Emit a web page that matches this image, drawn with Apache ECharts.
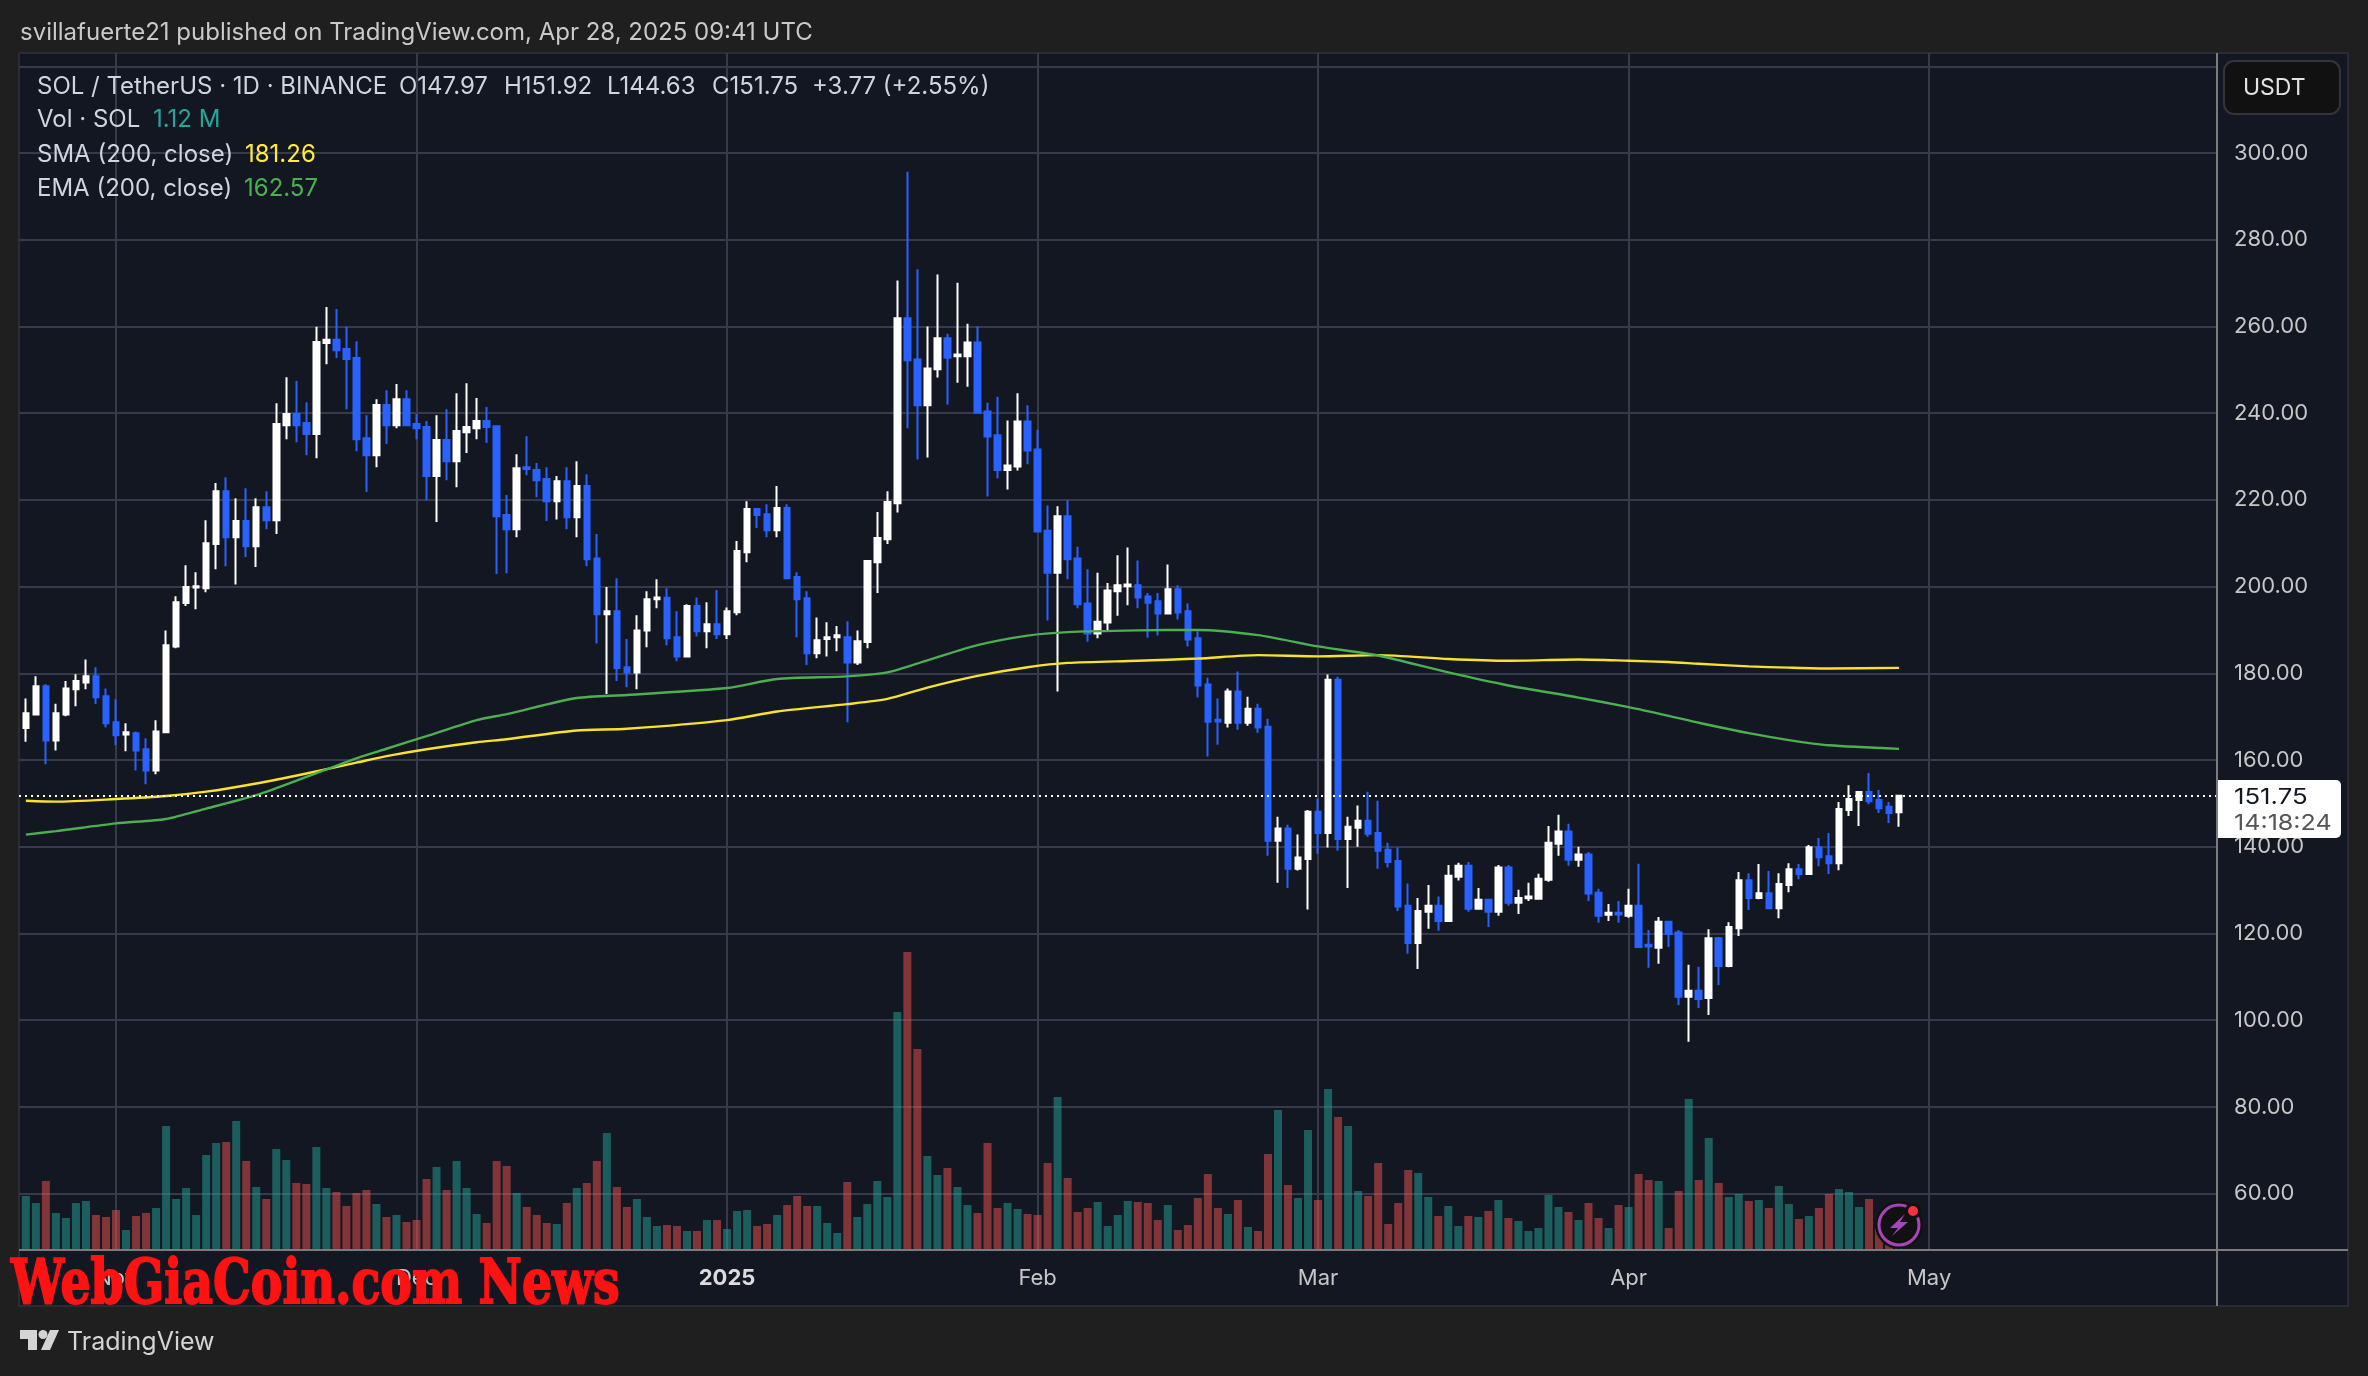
<!DOCTYPE html>
<html>
<head>
<meta charset="utf-8">
<style>
  html, body { margin: 0; padding: 0; background: #1f1f1f; }
  #container { width: 2368px; height: 1376px; }
</style>
<script src="https://cdn.jsdelivr.net/npm/echarts@6/dist/echarts.min.js"></script>
</head>
<body>
<div id="container"></div>
<script>
// daily candles, first one is 23 Oct 2024, last one 28 Apr 2025
var firstDay = Date.UTC(2024, 9, 23);
var DAY = 86400000;

var opens = [
  167.4,170.5,177.0,164.5,170.5,176.3,177.9,179.3,174.7,168.7,
  165.9,166.2,162.5,157.6,166.4,186.2,196.2,199.8,199.6,209.8,
  222.0,211.4,215.1,209.3,218.3,215.3,237.2,239.8,237.7,235.2,
  256.2,256.9,254.8,252.7,234.2,230.3,241.9,237.2,243.2,237.5,
  236.8,225.5,233.8,228.9,235.6,236.5,238.2,237.0,216.5,213.2,
  227.5,226.9,224.8,219.7,224.3,216.0,223.2,206.5,193.6,194.3,
  181.4,180.2,189.9,197.1,197.4,188.3,183.9,195.5,189.7,191.3,
  189.0,194.1,207.9,217.9,216.7,213.0,218.1,202.2,197.3,184.6,
  187.9,188.3,188.3,182.5,187.2,205.6,210.9,219.2,261.9,252.4,
  241.8,250.1,257.3,253.1,253.1,256.3,240.4,234.9,226.9,227.7,
  238.1,231.6,212.9,203.2,216.2,206.5,196.1,189.2,191.7,198.9,
  200.1,200.3,197.7,196.6,193.8,199.4,194.3,188.1,177.4,169.3,
  168.6,175.8,168.6,171.8,167.7,141.4,144.2,134.9,137.2,148.1,
  143.2,178.5,141.8,144.4,146.0,143.2,139.3,136.7,126.4,117.8,
  125.0,126.4,122.9,133.1,135.6,125.7,127.8,125.0,135.2,127.1,
  128.1,128.0,132.4,140.7,143.5,137.0,138.2,129.4,124.3,124.8,
  124.1,126.4,117.4,116.7,122.7,120.2,105.4,106.8,105.1,118.9,
  112.5,121.2,132.3,128.2,129.3,125.8,131.2,134.8,133.7,139.9,
  137.8,136.2,148.5,150.8,152.6,150.8,149.2,147.97
];
var closes = [
  170.8,177.0,164.5,170.8,176.5,178.2,179.3,174.5,168.5,165.7,
  166.4,162.2,157.6,166.6,186.5,196.4,199.9,200.1,210.0,222.0,
  211.4,215.1,209.3,218.3,215.3,237.5,239.8,237.2,235.2,256.4,
  256.9,254.5,252.5,234.0,230.3,241.9,237.2,243.2,237.2,236.5,
  225.5,233.8,228.9,235.9,236.8,238.2,236.8,216.2,213.2,227.3,
  227.1,224.5,219.7,224.3,216.0,223.2,206.3,193.6,194.3,181.2,
  180.2,189.9,197.1,197.5,188.1,183.9,195.5,189.7,191.3,189.0,
  194.3,208.2,217.9,216.5,213.0,218.1,201.9,197.1,184.6,187.6,
  188.3,188.8,182.5,187.4,205.9,211.2,219.5,261.9,252.2,241.8,
  250.3,257.3,252.8,253.5,256.3,240.1,234.6,226.9,227.9,238.1,
  231.4,212.7,203.2,216.2,206.3,195.9,189.2,191.9,199.1,200.3,
  200.5,197.5,196.3,193.8,199.4,194.0,187.8,177.2,168.8,168.9,
  175.8,168.6,171.8,167.5,141.4,144.2,134.9,137.5,148.1,143.2,
  178.5,141.8,144.6,146.0,143.0,139.1,136.5,126.2,117.8,125.2,
  126.4,122.9,133.3,135.6,125.7,127.8,125.0,135.2,127.1,128.2,
  128.5,132.6,140.9,143.5,137.0,138.2,129.2,124.1,124.8,124.4,
  126.4,116.9,117.0,122.7,119.9,105.4,106.8,104.9,118.9,112.5,
  121.5,132.3,128.2,129.3,125.8,131.4,134.8,133.7,139.9,137.6,
  136.2,148.7,151.0,152.6,150.5,148.9,147.8,151.75
];
var highs = [
  174.2,179.3,177.5,173.0,178.2,179.8,183.2,181.4,176.5,174.0,
  168.5,166.6,165.0,169.2,189.9,197.8,204.9,203.3,215.3,223.9,
  225.2,220.4,222.7,220.4,222.0,242.3,248.3,247.4,242.5,259.9,
  264.5,264.0,259.9,256.6,239.5,243.2,245.3,246.7,245.3,239.8,
  238.2,239.5,240.9,244.6,246.9,243.5,241.4,237.2,221.1,230.5,
  234.7,228.5,227.5,225.5,227.5,228.9,225.9,212.1,199.9,201.9,
  187.9,193.4,198.9,201.7,199.6,194.3,195.9,197.5,196.4,199.2,
  195.2,210.5,219.7,218.1,219.0,223.2,219.0,203.3,198.9,192.9,
  191.8,190.9,192.0,189.9,206.1,217.2,222.0,270.6,295.7,273.2,
  260.0,272.0,258.3,270.1,260.6,260.0,242.4,243.8,238.3,244.6,
  241.8,236.2,218.7,218.5,219.9,209.2,204.0,203.2,200.8,207.2,
  209.0,206.0,198.5,198.5,205.1,200.3,196.1,189.7,179.0,174.2,
  176.5,180.4,174.6,173.0,169.5,146.9,145.1,142.8,148.5,151.1,
  179.7,179.2,146.9,149.5,152.7,150.6,140.9,139.8,131.5,128.2,
  131.2,128.5,135.8,136.3,136.5,130.5,128.0,135.8,135.8,130.1,
  131.7,133.8,144.8,147.4,145.3,140.0,138.8,130.3,126.8,127.5,
  130.3,136.1,120.8,123.8,122.7,120.8,112.8,112.3,121.0,119.2,
  122.6,134.2,133.9,136.0,134.4,133.9,136.2,136.0,140.4,142.0,
  143.2,150.3,154.2,152.8,157.0,153.1,150.3,151.92
];
var lows = [
  164.2,170.3,159.0,162.2,170.1,172.4,176.3,172.9,167.5,163.4,
  162.0,157.6,154.4,156.7,166.3,185.8,195.5,194.8,198.7,204.0,
  204.7,200.5,206.8,204.5,213.2,212.1,234.0,233.3,230.3,229.6,
  251.3,252.7,240.9,231.2,221.8,227.5,232.9,236.5,237.0,234.0,
  219.9,214.9,224.5,222.9,230.8,234.0,233.1,202.9,203.1,211.4,
  225.7,220.6,215.1,215.5,213.2,211.4,204.7,186.9,175.2,178.2,
  176.8,176.3,186.0,195.0,186.5,182.8,183.7,188.5,185.8,187.9,
  187.9,193.4,205.6,213.5,211.4,211.4,201.7,188.3,181.9,183.5,
  183.9,185.1,168.7,181.9,185.8,198.5,209.8,217.1,236.5,229.3,
  229.8,248.2,242.0,247.0,246.1,239.9,220.8,225.0,222.4,226.8,
  228.2,212.5,192.2,175.8,201.7,195.0,187.3,188.1,189.6,193.3,
  195.7,195.0,188.2,188.7,193.7,192.4,186.2,174.4,160.8,163.5,
  167.5,167.0,167.9,166.3,137.9,131.7,130.5,134.5,125.5,138.4,
  139.8,139.1,130.5,140.0,142.3,134.9,135.2,125.2,115.3,111.8,
  121.1,120.6,122.7,132.2,125.0,125.5,121.5,124.1,126.4,124.5,
  127.5,127.9,131.9,137.9,135.6,135.4,127.5,122.5,122.9,122.5,
  123.6,116.7,112.1,113.0,116.9,103.5,95.0,102.8,101.2,108.1,
  112.2,119.4,125.4,127.9,125.7,123.5,129.5,132.5,133.5,135.5,
  133.7,134.6,147.1,144.8,149.8,147.8,145.5,144.63
];
// volume in millions of SOL
var volumes = [
  5.4,4.7,6.9,3.7,3.2,4.7,4.9,3.5,3.3,4.0,
  2.0,3.4,3.7,4.2,12.4,5.1,6.2,3.5,9.5,10.7,
  10.8,12.9,8.9,6.3,5.1,10.1,9.0,6.7,6.6,10.3,
  6.2,5.8,4.4,5.7,6.0,4.6,3.3,3.5,2.8,3.0,
  7.1,8.3,6.0,8.9,6.2,3.6,2.7,8.9,8.4,5.7,
  4.3,3.5,2.7,2.6,4.7,6.2,6.7,8.9,11.7,6.3,
  4.3,5.1,3.3,2.4,2.5,2.4,1.9,1.9,3.0,3.0,
  2.1,3.9,4.0,2.4,2.6,3.5,4.5,5.4,4.4,4.4,
  2.7,1.7,6.8,3.3,4.6,6.9,5.3,23.8,29.8,20.1,
  9.4,7.5,8.2,6.3,4.5,3.7,10.7,4.2,4.7,4.1,
  3.6,3.5,8.7,15.3,7.2,3.8,4.2,4.8,2.4,3.5,
  4.9,4.8,4.7,3.0,4.5,2.0,2.5,5.2,7.6,4.2,
  3.6,5.0,2.3,1.9,9.6,14.0,6.5,5.2,12.0,5.0,
  16.1,13.3,12.4,5.9,5.4,8.7,2.6,4.7,8.0,7.7,
  5.3,3.4,4.4,2.4,3.4,3.3,3.9,5.0,3.2,2.9,
  1.9,2.2,5.5,4.3,3.8,3.0,4.7,3.2,2.2,4.5,
  4.3,7.6,7.0,6.9,2.2,5.9,15.1,7.0,11.2,6.7,
  5.3,5.6,4.9,5.0,4.2,6.4,4.6,3.1,3.4,4.2,
  5.6,6.1,5.8,4.3,5.1,2.2,1.5,1.12
];

// moving averages at these candle numbers
var maDays = [0,3,9,14,18,23,28,33,36,40,45,48,55,60,70,75,82,86,90,95,100,104,111,117,123,129,135,142,148,155,160,164,167,172,176,180,187];
var smaValues = [150.6,150.4,151.0,151.7,152.7,154.6,156.9,159.4,160.9,162.5,164.1,164.8,166.8,167.2,169.2,171.2,172.9,174.1,176.7,179.4,181.4,182.4,182.9,183.4,184.2,183.9,184.2,183.3,182.9,183.2,182.9,182.6,182.2,181.6,181.3,181.1,181.26];
var emaValues = [142.8,143.6,145.4,146.4,148.8,151.9,156.1,160.4,162.6,165.5,169.2,170.6,174.3,175.0,176.6,178.7,179.3,180.2,183.0,186.5,188.7,189.5,189.9,190.0,188.8,186.2,184.1,180.2,177.2,174.4,172.2,170.2,168.6,166.2,164.6,163.4,162.57];

var gridPrices = [60,80,100,120,140,160,180,200,220,240,260,280,300,320];
var labelPrices = [60,80,100,120,140,160,180,200,220,240,260,280,300];
var monthTicks = [Date.UTC(2024,10,1), Date.UTC(2024,11,1), Date.UTC(2025,0,1), Date.UTC(2025,1,1), Date.UTC(2025,2,1), Date.UTC(2025,3,1), Date.UTC(2025,4,1)];
var monthLabels = ['Nov','Dec','2025','Feb','Mar','Apr','May'];
var lastPrice = 151.75;

var UP = '#ffffff';
var DOWN = '#2962ff';
var FONT = 'Inter';

var dom = document.getElementById('container');
var myChart = echarts.init(dom, null, { renderer: 'canvas' });

function dayTime(i) {
  return firstDay + i * DAY;
}

var candleData = opens.map(function (o, i) {
  return [dayTime(i), o, closes[i], lows[i], highs[i]];
});
var volumeData = volumes.map(function (v, i) {
  return {
    value: [dayTime(i), v],
    itemStyle: { color: closes[i] >= opens[i] ? 'rgba(38,166,154,0.5)' : 'rgba(239,83,80,0.5)' }
  };
});
var smaData = maDays.map(function (d, i) { return [dayTime(d), smaValues[i]]; });
var emaData = maDays.map(function (d, i) { return [dayTime(d), emaValues[i]]; });

function txt(text, x, y, color, size, sx) {
  return {
    type: 'text', x: x, y: y, z: 100, scaleX: sx || 1,
    style: {
      text: text, fill: color, fontFamily: FONT, fontSize: size,
      textAlign: 'left', textVerticalAlign: 'middle'
    }
  };
}
function hvLine(x1, y1, x2, y2, color) {
  return { type: 'line', z: 50, shape: { x1: x1, y1: y1, x2: x2, y2: y2 }, style: { stroke: color, lineWidth: 2 } };
}

var LEGEND = '#d1d4dc';
var graphicItems = [
  // panel behind everything
  { type: 'rect', z: -10, shape: { x: 19, y: 53, width: 2329, height: 1253 }, style: { fill: '#131722', stroke: '#2b2c30', lineWidth: 2 } },
  hvLine(2217, 53, 2217, 1306, '#7b7b7b'),
  hvLine(19, 1250, 2348, 1250, '#7b7b7b'),

  txt('svillafuerte21 published on TradingView.com, Apr 28, 2025 09:41 UTC', 20, 33, '#c9c9c9', 24),

  txt('SOL / TetherUS · 1D · BINANCE', 37, 87, LEGEND, 24),
  txt('O147.97', 399, 87, LEGEND, 24),
  txt('H151.92', 504, 87, LEGEND, 24),
  txt('L144.63', 607, 87, LEGEND, 24),
  txt('C151.75', 712, 87, LEGEND, 24),
  txt('+3.77 (+2.55%)', 812, 87, LEGEND, 24),
  txt('Vol · SOL', 37, 120, LEGEND, 24),
  txt('1.12 M', 153, 120, '#26a69a', 24),
  txt('SMA (200, close)', 37, 155, LEGEND, 24),
  txt('181.26', 245, 155, '#ffeb3b', 24),
  txt('EMA (200, close)', 37, 189, LEGEND, 24),
  txt('162.57', 244, 189, '#4caf50', 24),

  // currency button
  { type: 'rect', z: 100, shape: { x: 2224, y: 61, width: 116, height: 53, r: 10 }, style: { fill: '#111111', stroke: '#34353a', lineWidth: 2 } },
  txt('USDT', 2243, 88, '#e2e2e2', 23),

  // last price tag
  { type: 'rect', z: 100, shape: { x: 2218, y: 780, width: 123, height: 58, r: [0, 5, 5, 0] }, style: { fill: '#ffffff' } },
  txt('151.75', 2234, 797, '#131722', 22, 1.17),
  txt('14:18:24', 2234, 823, '#555555', 22, 1.14),

  // bolt badge
  { type: 'circle', z: 100, shape: { cx: 1899, cy: 1225, r: 24 }, style: { fill: '#111111' } },
  { type: 'circle', z: 101, shape: { cx: 1899, cy: 1225, r: 20 }, style: { fill: '#111111', stroke: '#a845bb', lineWidth: 3 } },
  { type: 'polygon', z: 102, shape: { points: [[1905, 1214], [1890, 1228], [1898, 1228], [1892, 1236], [1908, 1222], [1900, 1222]] }, style: { fill: '#a845bb' } },
  { type: 'circle', z: 102, shape: { cx: 1913, cy: 1211, r: 8 }, style: { fill: '#111111' } },
  { type: 'circle', z: 103, shape: { cx: 1913, cy: 1211, r: 5 }, style: { fill: '#f9303f' } },

  // watermark
  { type: 'text', z: 110, x: 11, y: 1287, scaleX: 0.765, style: {
    text: 'WebGiaCoin.com News', fill: '#ff1212', stroke: '#ff1212', lineWidth: 2,
    fontFamily: 'DejaVu Serif', fontWeight: 'bold', fontSize: 62,
    textAlign: 'left', textVerticalAlign: 'middle'
  } },

  // TradingView footer
  { type: 'polygon', z: 100, shape: { points: [[20, 1330], [37, 1330], [37, 1350], [28, 1350], [28, 1339], [20, 1339]] }, style: { fill: '#d4d4d4' } },
  { type: 'circle', z: 100, shape: { cx: 43, cy: 1334.5, r: 4.5 }, style: { fill: '#d4d4d4' } },
  { type: 'polygon', z: 100, shape: { points: [[50, 1330], [59, 1330], [50, 1350], [41, 1350]] }, style: { fill: '#d4d4d4' } },
  txt('TradingView', 67, 1342, '#d4d4d4', 25)
];

var option = {
  animation: false,
  backgroundColor: '#1f1f1f',
  textStyle: { fontFamily: FONT },
  grid: { left: 19, top: 53, width: 2198, height: 1197 },
  xAxis: {
    type: 'value',
    min: firstDay - 0.684 * DAY,
    max: firstDay + 218.74 * DAY,
    axisLine: { show: false },
    axisTick: { show: false, customValues: monthTicks },
    splitLine: { show: true, lineStyle: { color: '#363a4b', width: 2 } },
    axisLabel: {
      customValues: monthTicks,
      hideOverlap: false,
      margin: 17,
      color: '#c6c6c6',
      fontFamily: FONT,
      fontSize: 22,
      formatter: function (value) {
        var label = monthLabels[monthTicks.indexOf(value)];
        return label === '2025' ? '{y|2025}' : label;
      },
      rich: { y: { color: '#dcdcdc', fontFamily: FONT, fontSize: 22, fontWeight: 'bold' } }
    }
  },
  yAxis: [
    {
      type: 'value',
      position: 'right',
      min: 47,
      max: 323.06,
      axisLine: { show: false },
      axisTick: { show: false, customValues: gridPrices },
      splitLine: { show: true, lineStyle: { color: '#363a4b', width: 2 } },
      axisLabel: {
        customValues: labelPrices,
        margin: 17,
        align: 'left',
        padding: [3, 0, 0, 0],
        color: '#c6c6c6',
        fontFamily: FONT,
        fontSize: 22,
        formatter: function (value) { return value.toFixed(2); }
      }
    },
    {
      // volume pane shares the plot, 1M is 10px tall
      type: 'value',
      min: 0,
      max: 119.7,
      show: false,
      splitLine: { show: false }
    }
  ],
  series: [
    {
      name: 'Vol',
      type: 'bar',
      yAxisIndex: 1,
      barWidth: 8,
      z: 1,
      data: volumeData
    },
    {
      name: 'SOL',
      type: 'candlestick',
      barWidth: 6,
      z: 3,
      itemStyle: { color: UP, color0: DOWN, borderColor: UP, borderColor0: DOWN, borderWidth: 2 },
      data: candleData,
      markLine: {
        symbol: 'none',
        silent: true,
        label: { show: false },
        lineStyle: { color: '#ffffff', type: [2, 4], width: 2 },
        data: [{ yAxis: lastPrice }]
      }
    },
    {
      name: 'SMA',
      type: 'line',
      showSymbol: false,
      smooth: 0.25,
      z: 4,
      lineStyle: { color: '#f7e32c', width: 2.4 },
      data: smaData
    },
    {
      name: 'EMA',
      type: 'line',
      showSymbol: false,
      smooth: 0.25,
      z: 4,
      lineStyle: { color: '#4caf50', width: 2.4 },
      data: emaData
    }
  ],
  graphic: graphicItems
};

myChart.setOption(option);
window.addEventListener('resize', myChart.resize);
</script>
</body>
</html>
